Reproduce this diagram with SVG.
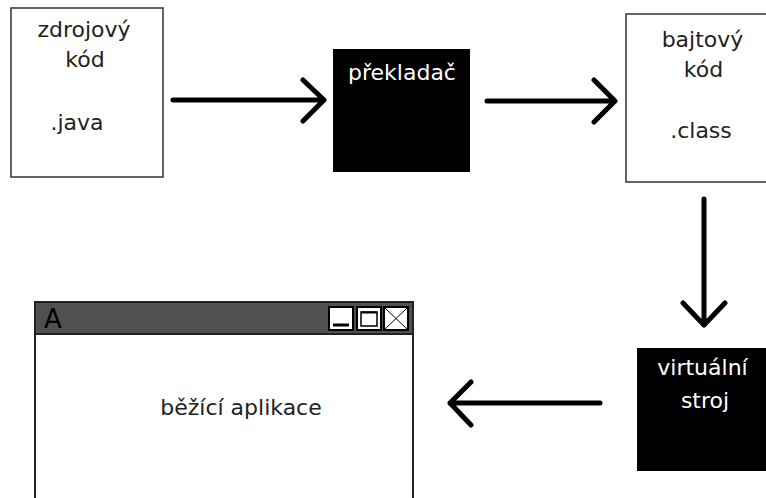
<svg xmlns="http://www.w3.org/2000/svg" width="766" height="498" viewBox="0 0 766 498">
<style>
.t{font-family:"DejaVu Sans","Liberation Sans",sans-serif;font-size:22px;text-anchor:middle;fill:#222}
.w{fill:#fff}
.box{fill:#fff;stroke:#333;stroke-width:1.5}
.blk{fill:#000}
.arr{fill:none;stroke:#000;stroke-width:5;stroke-linecap:round;stroke-linejoin:round}
</style>
<rect width="766" height="498" fill="#fff"/>
<g id="zdrojovy">
<rect class="box" x="11" y="8" width="152" height="169"/>
<text class="t" x="84" y="37">zdrojový</text>
<text class="t" x="85" y="67">kód</text>
<text class="t" x="77" y="130">.java</text>
</g>
<g id="prekladac">
<rect class="blk" x="333" y="49" width="137" height="123"/>
<text class="t w" x="402" y="80">překladač</text>
</g>
<g id="bajtovy">
<rect class="box" x="626" y="14" width="145" height="168"/>
<text class="t" x="702.5" y="47">bajtový</text>
<text class="t" x="703.5" y="77">kód</text>
<text class="t" x="701" y="138">.class</text>
</g>
<g id="virtualni">
<rect class="blk" x="637" y="348" width="135" height="123"/>
<text class="t w" x="702.5" y="375">virtuální</text>
<text class="t w" x="705" y="408">stroj</text>
</g>
<g id="aplikace">
<rect x="35" y="302" width="378" height="210" fill="#fff" stroke="#222" stroke-width="2"/>
<rect x="35" y="302" width="378" height="32" fill="#505050" stroke="#222" stroke-width="2"/>
<text x="44" y="328" style="font-family:'DejaVu Sans','Liberation Sans',sans-serif;font-size:26px;fill:#000">A</text>
<rect x="329" y="307" width="24" height="23" fill="#fff" stroke="#000" stroke-width="2"/>
<line x1="333" y1="325" x2="349" y2="325" stroke="#000" stroke-width="3"/>
<rect x="357" y="307" width="24" height="23" fill="#fff" stroke="#000" stroke-width="2"/>
<rect x="361" y="312" width="16" height="14" fill="none" stroke="#000" stroke-width="1.5"/>
<line x1="361" y1="312.5" x2="377" y2="312.5" stroke="#000" stroke-width="2"/>
<rect x="384" y="307" width="24" height="23" fill="#fff" stroke="#000" stroke-width="2"/>
<path d="M385 308L407 329M407 308L385 329" stroke="#000" stroke-width="1"/>
<text class="t" x="241" y="415">běžící aplikace</text>
</g>
<g id="connectors">
<path class="arr" d="M173 100H324M303 80L324 100L303 121"/>
<path class="arr" d="M487 101H615M594 80L615 101L594 122"/>
<path class="arr" d="M704 199V325M683 303L704 325L725 303"/>
<path class="arr" d="M600 403H450M471 382L450 403L471 425"/>
</g>
</svg>
